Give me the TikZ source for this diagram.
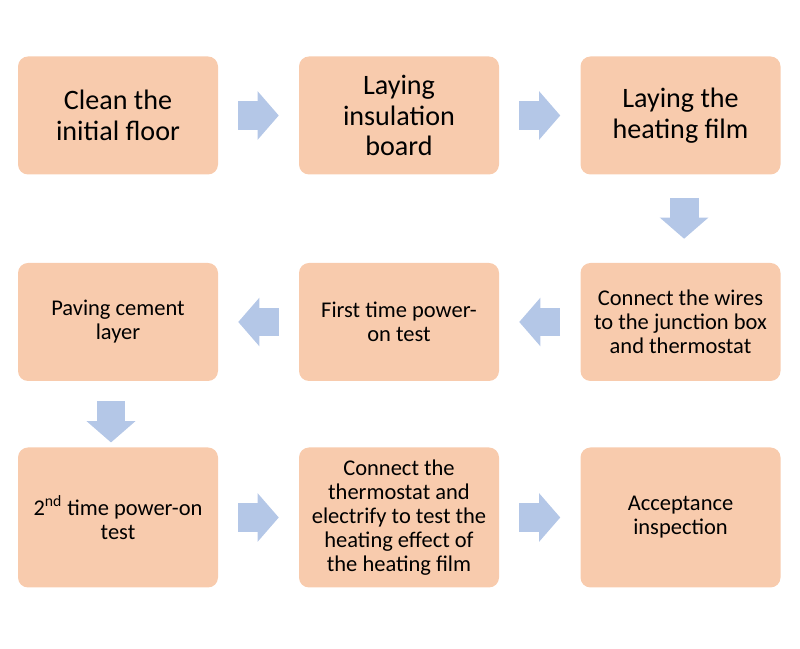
\documentclass[tikz,border=0pt]{standalone}
\usepackage{fontspec}
\setmainfont{Carlito}
\usetikzlibrary{arrows.meta,positioning}
\definecolor{peach}{RGB}{248,203,173}
\definecolor{paleblue}{RGB}{180,199,231}

\begin{document}
\begin{tikzpicture}[
    stepbox/.style={rectangle, fill=peach, rounded corners=0.25cm, minimum width=5cm, minimum height=2.95cm, align=center, font=\fontsize{16}{17}\selectfont},
    bigbox/.style={stepbox, font=\fontsize{20}{22}\selectfont},
    tallbox/.style={stepbox, minimum height=3.5cm},
    blockarrow/.style={-{Triangle[length=0.53cm, width=1.22cm, line width=0pt]}, line width=0.72cm, paleblue}
]
    \useasboundingbox (0,0) rectangle (20,16.225);

    % First row
    \node[bigbox] (clean) at (2.95,13.3375) {Clean the\\initial floor};
    \node[bigbox] (board) at (9.975,13.3375) {Laying\\insulation\\board};
    \node[bigbox] (film) at (17.0125,13.3375) {Laying the\\heating film};

    % Second row
    \node[stepbox] (cement) at (2.95,8.175) {Paving cement\\layer};
    \node[stepbox] (power1) at (9.975,8.175) {First time power-\\on test};
    \node[stepbox] (wires) at (17.0125,8.175) {Connect the wires\\to the junction box\\and thermostat};

    % Third row
    \node[tallbox] (power2) at (2.95,3.2875) {2\textsuperscript{nd} time power-on\\test};
    \node[tallbox] (electrify) at (9.975,3.2875) {Connect the\\thermostat and\\electrify to test the\\heating effect of\\the heating film};
    \node[tallbox] (accept) at (17.0125,3.2875) {Acceptance\\inspection};

    % Arrows
    \foreach \a/\b in {clean/board, board/film, wires/power1, power1/cement, power2/electrify, electrify/accept}
        \draw[blockarrow, shorten <=0.5cm, shorten >=0.5cm] (\a) -- (\b);
    \draw[blockarrow, shorten <=0.575cm, shorten >=0.6cm] ([xshift=0.09cm]film.south) -- ([xshift=0.09cm]wires.north);
    \draw[blockarrow, shorten <=0.5cm, shorten >=0.12cm] ([xshift=-0.175cm]cement.south) -- ([xshift=-0.175cm]power2.north);
\end{tikzpicture}
\end{document}
